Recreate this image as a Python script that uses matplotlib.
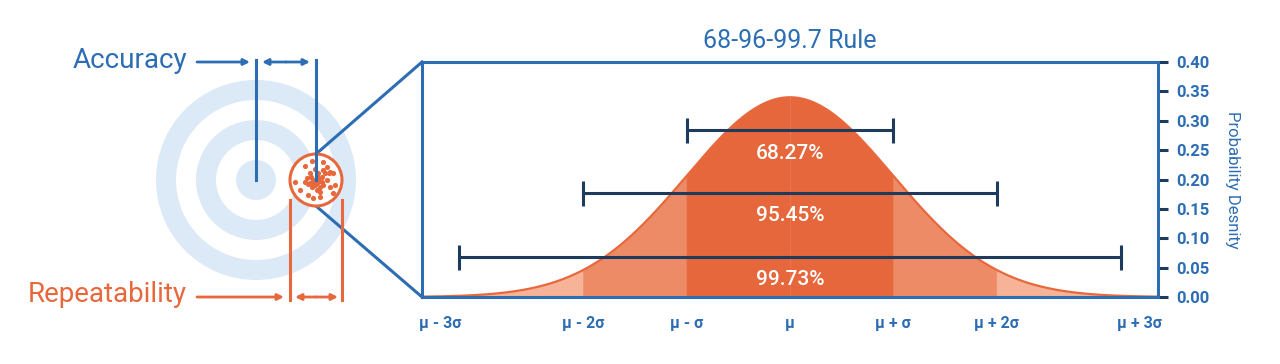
import numpy as np
import matplotlib.pyplot as plt
from matplotlib.patches import Circle, Wedge

plt.rcParams['font.family'] = ['Roboto', 'DejaVu Sans']

# colours
blue = "#2c6db4"
navy = "#1e3a5c"
orange = "#e8683d"
ring_blue = "#dce9f6"
band_colors = ["#f6b398", "#ee8b67", "#e6673b", "#ee8b67", "#f6b398"]

# normal curve (x in sigma units), peak
mu, sigma = 0.0, 1.0
peak_density = 0.34
band_edges = [-3.56, -2, -1, 1, 2, 3.56]

# bracket bars and their labels
bar_half_widths = [1.0, 2.0, 3.2]
bar_levels = [0.284, 0.177, 0.068]
pct_labels = ["68.27%", "95.45%", "99.73%"]
pct_label_levels = [0.245, 0.138, 0.029]

# axis ticks
x_tick_pos = [-3.38, -2, -1, 0, 1, 2, 3.38]
x_tick_labels = ["μ - 3σ", "μ - 2σ", "μ - σ", "μ", "μ + σ", "μ + 2σ", "μ + 3σ"]
y_ticks = [0.00, 0.05, 0.10, 0.15, 0.20, 0.25, 0.30, 0.35, 0.40]

# target drawing (pixel units of the figure)
target_center = (256, 180)
ring_radii = [(0, 20), (40, 60), (80, 100)]
cluster_center = (316, 180)
cluster_radius = 26
shot_offsets = [
    (-11, -14), (-4, -19), (7, -18), (11, -13), (14, -8), (17, -7), (7, -10),
    (-6, -7), (-9, -2), (-11, 2), (-3, 0), (1, 3), (-4, 7), (1, 10), (4, 7),
    (7, 5), (11, 0), (6, -3), (-21, 2), (-16, 10), (-8, 15), (-3, 18), (4, 17),
    (17, 13), (19, 5), (14, 7), (13, -7), (2, -7), (-1, -11), (9, -7), (-6, 3),
    (4, 12), (-3, 2), (2, -2), (-5, -3), (3, 1), (-1, 5), (6, 2), (-8, 4), (1, -5),
]

W, H = 1280, 364
fig = plt.figure(figsize=(W / 100, H / 100), dpi=100)

# overlay axes in pixel coordinates for the target sketch
ov = fig.add_axes([0, 0, 1, 1])
ov.set_xlim(0, W)
ov.set_ylim(H, 0)
ov.axis("off")

for r_in, r_out in ring_radii:
    ov.add_patch(Wedge(target_center, r_out, 0, 360, width=r_out - r_in,
                       facecolor=ring_blue, edgecolor="none"))

ov.add_patch(Circle(cluster_center, cluster_radius, facecolor="white",
                    edgecolor=orange, lw=2.2, zorder=3))
sx = [cluster_center[0] + dx for dx, dy in shot_offsets]
sy = [cluster_center[1] + dy for dx, dy in shot_offsets]
ov.scatter(sx, sy, s=14, color=orange, zorder=4, linewidths=0)

# main axes placement
ax_left, ax_right, ax_top, ax_bottom = 422, 1158, 62, 297
ax = fig.add_axes([ax_left / W, 1 - ax_bottom / H,
                   (ax_right - ax_left) / W, (ax_bottom - ax_top) / H])

# zoom lines from the cluster to the chart
ov.plot([cluster_center[0], ax_left], [cluster_center[1] - cluster_radius, ax_top],
        color=blue, lw=2.2, zorder=2)
ov.plot([cluster_center[0], ax_left], [cluster_center[1] + cluster_radius, ax_bottom],
        color=blue, lw=2.2, zorder=2)

# accuracy markers
top_y = 62
ov.plot([target_center[0]] * 2, [top_y - 2, target_center[1]], color=blue, lw=2.2, zorder=5)
ov.plot([cluster_center[0]] * 2, [top_y - 2, cluster_center[1]], color=blue, lw=2.2, zorder=5)
arrow_kw = dict(arrowstyle="-|>", color=blue, lw=2, mutation_scale=9, shrinkA=0, shrinkB=0)
ov.annotate("", xy=(250, top_y), xytext=(197, top_y), arrowprops=arrow_kw)
ov.annotate("", xy=(262, top_y), xytext=(286, top_y), arrowprops=arrow_kw)
ov.annotate("", xy=(310, top_y), xytext=(286, top_y), arrowprops=arrow_kw)
ov.text(187, top_y - 2, "Accuracy", color=blue, fontsize=20, ha="right", va="center")

# repeatability markers
bot_y = 297
ov.plot([cluster_center[0] - cluster_radius] * 2, [200, bot_y + 3], color=orange, lw=2.2)
ov.plot([cluster_center[0] + cluster_radius] * 2, [200, bot_y + 3], color=orange, lw=2.2)
arrow_kw_o = dict(arrow_kw, color=orange)
ov.annotate("", xy=(284, bot_y), xytext=(197, bot_y), arrowprops=arrow_kw_o)
ov.annotate("", xy=(295, bot_y), xytext=(316, bot_y), arrowprops=arrow_kw_o)
ov.annotate("", xy=(338, bot_y), xytext=(316, bot_y), arrowprops=arrow_kw_o)
ov.text(187, bot_y - 2, "Repeatability", color=orange, fontsize=20, ha="right", va="center")

# bell curve, band edges inserted so the fills meet without gaps
x = np.union1d(np.linspace(band_edges[0], band_edges[-1], 600), band_edges)
y = peak_density * np.exp(-0.5 * ((x - mu) / sigma) ** 2)
for i, c in enumerate(band_colors):
    m = (x >= band_edges[i]) & (x <= band_edges[i + 1])
    ax.fill_between(x[m], 0, y[m], color=c, lw=0.6, edgecolor=c, zorder=1)
ax.plot(x, y, color=orange, lw=1.6, zorder=2)
ax.plot([mu, mu], [0, peak_density], color="#e97450", lw=0.8, zorder=2)

for hw, lvl, lab, llvl in zip(bar_half_widths, bar_levels, pct_labels, pct_label_levels):
    ax.errorbar([mu], [lvl], xerr=[[hw], [hw]], fmt="none", ecolor=navy,
                elinewidth=2.2, capsize=9, capthick=2.2, zorder=4)
    ax.text(mu, llvl, lab, color="white", fontsize=15, fontweight="medium",
            ha="center", va="center", zorder=5)

ax.set_xlim(band_edges[0], band_edges[-1])
ax.set_ylim(0, 0.40)
ax.set_xticks(x_tick_pos)
ax.set_xticklabels(x_tick_labels)
ax.set_yticks(y_ticks)
ax.set_yticklabels([f"{v:.2f}" for v in y_ticks])
ax.yaxis.tick_right()
ax.yaxis.set_label_position("right")
ax.tick_params(axis="x", length=0, pad=14, labelcolor=blue, labelsize=11.5)
ax.tick_params(axis="y", length=7, width=2.2, color=navy, labelcolor=blue,
               labelsize=12, pad=6)
for lab in ax.get_xticklabels() + ax.get_yticklabels():
    lab.set_fontweight("bold")
for s in ax.spines.values():
    s.set_color(blue)
    s.set_linewidth(2.2)
ax.set_ylabel("Probability Desnity", color=blue, fontsize=12, rotation=270, labelpad=22)
ax.set_title("68-96-99.7 Rule", color=blue, fontsize=18, pad=10)

fig.savefig("out.png", dpi=100)
